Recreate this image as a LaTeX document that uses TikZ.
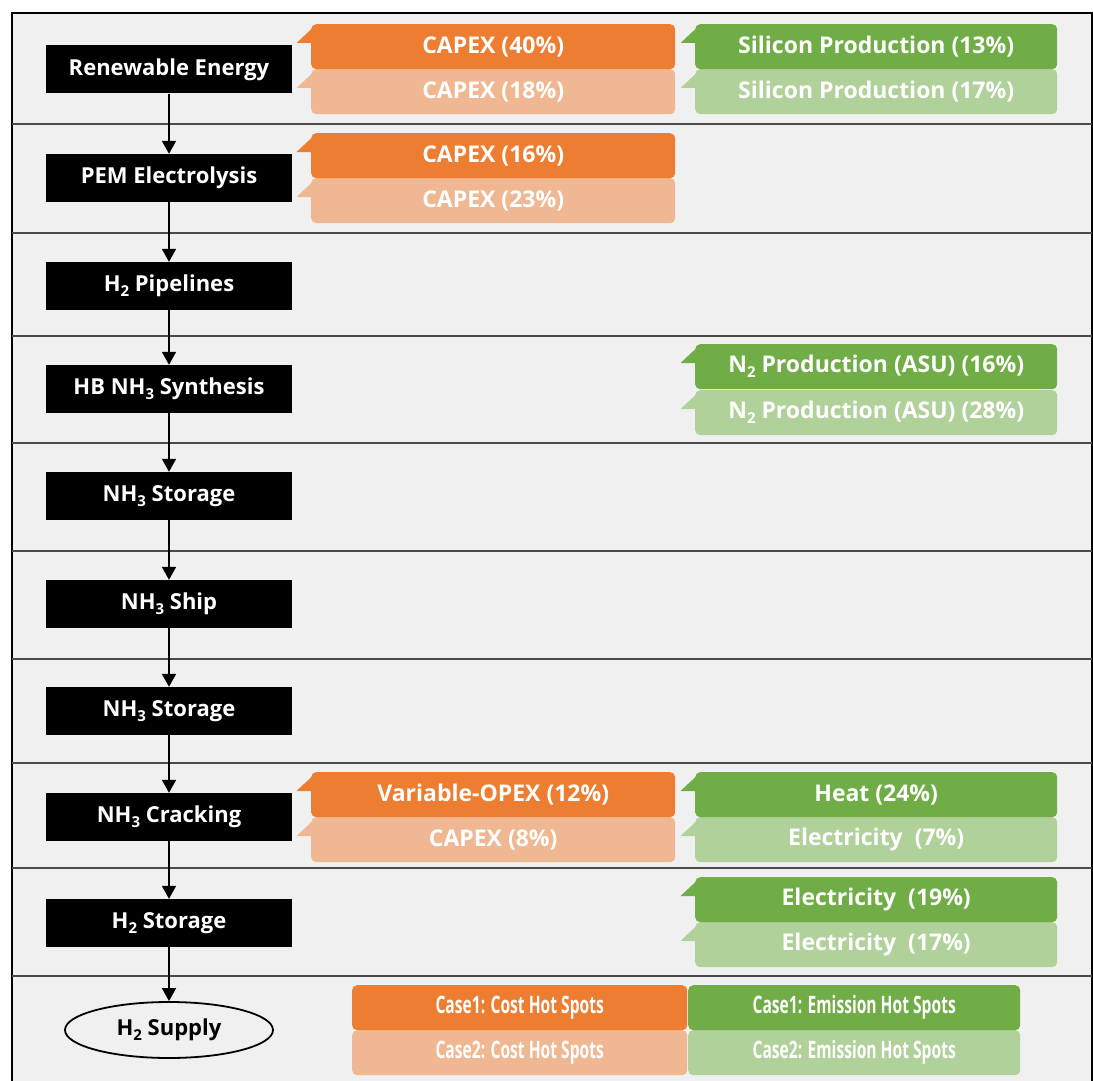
\documentclass[tikz,border=0pt]{standalone}
\usepackage{fontspec}
\setmainfont{Open Sans}
\usetikzlibrary{arrows.meta,calc,shapes.geometric}
\definecolor{bgc}{HTML}{F0F0F0}
\definecolor{orD}{HTML}{ED7D31}
\definecolor{orL}{HTML}{F0B892}
\definecolor{grD}{HTML}{70AD47}
\definecolor{grL}{HTML}{B1D19B}
\definecolor{sepc}{HTML}{4A4A4A}
\newcommand{\mysub}[1]{\raisebox{-0.4ex}{\fontsize{15}{15}\selectfont #1}}
\newcommand{\calltail}[2]{\fill[#2] ($(#1.north west)+(0.5,5)$) -- ++(-15,14) -- ++(15,0) -- cycle;}
\tikzset{
  stage/.style={fill=black, text=white, font=\fontsize{22}{26}\selectfont\bfseries,
    minimum width=246pt, minimum height=48pt, inner sep=0pt},
  cbox/.style={rounded corners=5pt, text=white, font=\fontsize{23}{26}\selectfont\bfseries,
    minimum height=45pt, inner sep=0pt, anchor=north west},
  obox/.style={cbox, minimum width=364pt},
  gbox/.style={cbox, minimum width=362pt},
  lbox/.style={rounded corners=5pt, text=white, font=\fontsize{24}{26}\selectfont\bfseries,
    minimum height=45pt, inner sep=0pt, anchor=north west},
  sepline/.style={draw=sepc, line width=1.2pt},
  arr/.style={draw=black, line width=1.8pt, -{Triangle[width=14pt,length=13pt]}},
}
\begin{document}
\begin{tikzpicture}[x=1pt,y=-1pt]
\useasboundingbox (0,0) rectangle (1093,1081);
\clip (0,0) rectangle (1093,1081);
\fill[bgc] (12,13) rectangle (1092,1090);
\draw[line width=2.2pt] (12,1090) |- (1092,13) -- (1092,1090);
% separators
\foreach \yy in {124,233,336,443,551,659,763,868,976}
  \draw[sepline] (12,\yy) -- (1092,\yy);

% stages
\node[stage] (re)    at (169,69.5) {Renewable Energy};
\node[stage] (pem)   at (169,178)  {PEM Electrolysis};
\node[stage] (pipe)  at (169,286)  {H\mysub{2} Pipelines};
\node[stage] (hb)    at (169,389)  {HB NH\mysub{3} Synthesis};
\node[stage] (st1)   at (169,496)  {NH\mysub{3} Storage};
\node[stage] (ship)  at (169,604)  {NH\mysub{3} Ship};
\node[stage] (st2)   at (169,711)  {NH\mysub{3} Storage};
\node[stage] (crack) at (169,817)  {NH\mysub{3} Cracking};
\node[stage] (h2st)  at (169,923)  {H\mysub{2} Storage};
\node[ellipse, draw=black, line width=1.8pt, fill=bgc, minimum width=208pt, minimum height=56pt,
      inner sep=0pt, font=\fontsize{22}{26}\selectfont\bfseries] (supply) at (169,1030) {H\mysub{2} Supply};

\draw[arr] (re) -- (pem);
\draw[arr] (pem) -- (pipe);
\draw[arr] (pipe) -- (hb);
\draw[arr] (hb) -- (st1);
\draw[arr] (st1) -- (ship);
\draw[arr] (ship) -- (st2);
\draw[arr] (st2) -- (crack);
\draw[arr] (crack) -- (h2st);
\draw[arr] (h2st) -- (supply);

% row 1
\node[obox, fill=orL] (r1oL) at (311,69) {CAPEX (18\%)};
\calltail{r1oL}{orL}
\node[obox, fill=orD] (r1oD) at (311,24) {CAPEX (40\%)};
\calltail{r1oD}{orD}
\node[gbox, fill=grL] (r1gL) at (695,69) {Silicon Production (17\%)};
\calltail{r1gL}{grL}
\node[gbox, fill=grD] (r1gD) at (695,24) {Silicon Production (13\%)};
\calltail{r1gD}{grD}
% row 2
\node[obox, fill=orL] (r2oL) at (311,178) {CAPEX (23\%)};
\calltail{r2oL}{orL}
\node[obox, fill=orD] (r2oD) at (311,133) {CAPEX (16\%)};
\calltail{r2oD}{orD}
% row 4
\node[gbox, fill=grL] (r4gL) at (695,390) {N\mysub{2} Production (ASU) (28\%)};
\calltail{r4gL}{grL}
\node[gbox, fill=grD] (r4gD) at (695,344) {N\mysub{2} Production (ASU) (16\%)};
\calltail{r4gD}{grD}
% row 8
\node[obox, fill=orL] (r8oL) at (311,817) {CAPEX (8\%)};
\calltail{r8oL}{orL}
\node[obox, fill=orD] (r8oD) at (311,772) {Variable-OPEX (12\%)};
\calltail{r8oD}{orD}
\node[gbox, fill=grL] (r8gL) at (695,817) {Electricity\ \ (7\%)};
\calltail{r8gL}{grL}
\node[gbox, fill=grD] (r8gD) at (695,772) {Heat (24\%)};
\calltail{r8gD}{grD}
% row 9
\node[gbox, fill=grL] (r9gL) at (695,922) {Electricity\ \ (17\%)};
\calltail{r9gL}{grL}
\node[gbox, fill=grD] (r9gD) at (695,877) {Electricity\ \ (19\%)};
\calltail{r9gD}{grD}

% legend
\node[lbox, fill=orL, minimum width=335pt] (lg2o) at (352,1030) {\scalebox{0.65}[1]{Case2: Cost Hot Spots}};
\node[lbox, fill=orD, minimum width=335pt] (lg1o) at (352,985) {\scalebox{0.65}[1]{Case1: Cost Hot Spots}};
\node[lbox, fill=grL, minimum width=332pt] (lg2g) at (688,1030) {\scalebox{0.65}[1]{Case2: Emission Hot Spots}};
\node[lbox, fill=grD, minimum width=332pt] (lg1g) at (688,985) {\scalebox{0.65}[1]{Case1: Emission Hot Spots}};
\end{tikzpicture}
\end{document}
